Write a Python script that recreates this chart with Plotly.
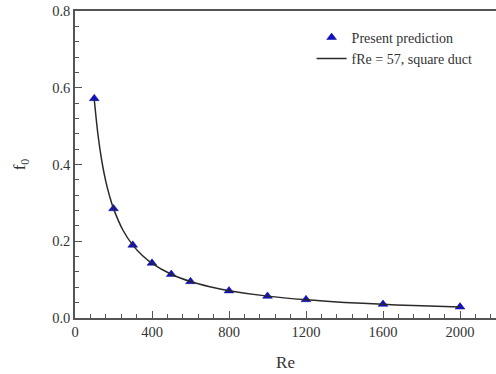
import plotly.graph_objects as go

# Present prediction (symbols)
re_pts = [100, 200, 300, 400, 500, 600, 800, 1000, 1200, 1600, 2000]
f_pts = [0.572, 0.285, 0.190, 0.143, 0.114, 0.095, 0.071, 0.057, 0.048, 0.036, 0.029]

# fRe = 57 square duct curve
re_line = [100, 120, 140, 160, 180, 200, 250, 300, 350, 400, 500, 600, 700, 800,
           1000, 1200, 1400, 1600, 1800, 2000]
f_line = [0.570, 0.475, 0.407, 0.356, 0.317, 0.285, 0.228, 0.190, 0.163, 0.1425,
          0.114, 0.095, 0.0814, 0.0713, 0.057, 0.0475, 0.0407, 0.0356, 0.0317, 0.0285]

x_ticks = [0, 400, 800, 1200, 1600, 2000]
y_ticks = [0.0, 0.2, 0.4, 0.6, 0.8]

FONT = "Liberation Serif"
AX = "#555555"

fig = go.Figure()
fig.add_trace(go.Scatter(
    x=re_pts, y=f_pts, mode="markers", name="Present prediction",
    marker=dict(symbol="triangle-up", size=8.5, color="#1010c8",
                line=dict(width=0.5, color="#0a0a90")),
))
fig.add_trace(go.Scatter(
    x=re_line, y=f_line, mode="lines", name="fRe = 57, square duct",
    line=dict(color="#2a2a2a", width=1.5, shape="spline"),
))

fig.update_layout(
    width=496, height=374,
    margin=dict(l=75, r=0, t=11, b=56),
    paper_bgcolor="white", plot_bgcolor="white",
    font=dict(family=FONT, size=14, color="#333333"),
    showlegend=True,
    legend=dict(x=0.562, y=0.965, xanchor="left", yanchor="top",
                bgcolor="rgba(0,0,0,0)", font=dict(family=FONT, size=14, color="#333333"),
                tracegroupgap=0, itemwidth=30),
    xaxis=dict(
        range=[0, 2187], tickvals=x_ticks, ticktext=[str(v) for v in x_ticks],
        showgrid=False, zeroline=False, showline=True, linecolor=AX, linewidth=1.5,
        mirror=True, ticks="inside", ticklen=7, tickcolor=AX, tickwidth=1,
        minor=dict(dtick=80, ticks="inside", ticklen=4, tickcolor=AX, tickwidth=1),
        title=dict(text="Re", font=dict(family=FONT, size=17), standoff=17),
        tickfont=dict(family=FONT, size=14.5),
    ),
    yaxis=dict(
        range=[0, 0.8], tickvals=y_ticks, ticktext=["%.1f" % v for v in y_ticks],
        showgrid=False, zeroline=False, showline=True, linecolor=AX, linewidth=1.5,
        ticks="inside", ticklen=7, tickcolor=AX, tickwidth=1,
        minor=dict(dtick=0.04, ticks="inside", ticklen=4, tickcolor=AX, tickwidth=1),
        title=dict(text="f<sub>0</sub>", font=dict(family=FONT, size=17), standoff=22),
        tickfont=dict(family=FONT, size=14.5),
    ),
)

fig.write_html("out.html")
